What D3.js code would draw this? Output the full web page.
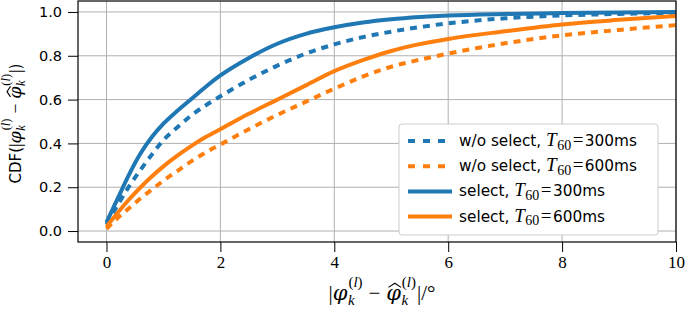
<!DOCTYPE html>
<html>
<head>
<meta charset="utf-8">
<script src="https://cdn.jsdelivr.net/npm/d3@7"></script>
<style>
  html, body { margin: 0; padding: 0; background: #fff; }
  svg { display: block; }
</style>
</head>
<body>
<svg id="chart" width="685" height="309"></svg>
<script>
// ---------- data ----------
const xValues     = [0,    0.2,   0.4,   0.6,   0.8,  1,     1.25,  1.5,  1.75,  2,     2.5,   3,     3.5,   4,     4.5,   5,     5.5,   6,     7,     8,     9,     10];
const woSelect300 = [0.03, 0.12,  0.205, 0.28,  0.35, 0.415, 0.475, 0.53, 0.575, 0.615, 0.69,  0.755, 0.81,  0.852, 0.885, 0.91,  0.931, 0.948, 0.971, 0.984, 0.991, 0.996];
const woSelect600 = [0.01, 0.06,  0.105, 0.15,  0.19, 0.23,  0.275, 0.32, 0.36,  0.395, 0.465, 0.53,  0.59,  0.65,  0.705, 0.75,  0.782, 0.81,  0.857, 0.893, 0.918, 0.94];
const select300   = [0.04, 0.15,  0.26,  0.355, 0.43, 0.49,  0.55,  0.605,0.66,  0.71,  0.79,  0.855, 0.90,  0.93,  0.952, 0.967, 0.977, 0.984, 0.991, 0.995, 0.998, 1.0];
const select600   = [0.02, 0.085, 0.145, 0.20,  0.25, 0.295, 0.345, 0.39, 0.43,  0.465, 0.535, 0.60,  0.665, 0.73,  0.78,  0.822, 0.853, 0.877, 0.912, 0.943, 0.964, 0.982];

const seriesNames = ["w/o select", "w/o select", "select", "select"];
const seriesT60 = ["300ms", "600ms", "300ms", "600ms"];
const seriesValues = [woSelect300, woSelect600, select300, select600];
const seriesDashed = [true, true, false, false];
const seriesColors = ["#1f77b4", "#ff7f0e", "#1f77b4", "#ff7f0e"];

const xTicks = [0, 2, 4, 6, 8, 10];
const yTicks = [0.0, 0.2, 0.4, 0.6, 0.8, 1.0];

// ---------- layout ----------
const plot = { left: 78, right: 676, top: 1, bottom: 242 };
const svg = d3.select("#chart");

const x = d3.scaleLinear().domain([-0.5, 10]).range([plot.left, plot.right]);
const y = d3.scaleLinear().domain([-0.05, 1.05]).range([plot.bottom, plot.top]);

const SANS = "DejaVu Sans, sans-serif";
const SERIF = "Liberation Serif, DejaVu Serif, serif";
const PHI = "DejaVu Serif, serif";

svg.append("defs").append("clipPath").attr("id", "clip")
  .append("rect").attr("x", plot.left).attr("y", plot.top)
  .attr("width", plot.right - plot.left).attr("height", plot.bottom - plot.top);

// grid
const grid = svg.append("g");
grid.selectAll("line.vx").data(xTicks).join("line")
  .attr("x1", d => x(d)).attr("x2", d => x(d))
  .attr("y1", plot.top).attr("y2", plot.bottom)
  .attr("stroke", "#b0b0b0").attr("stroke-width", 1);
grid.selectAll("line.hy").data(yTicks).join("line")
  .attr("y1", d => y(d)).attr("y2", d => y(d))
  .attr("x1", plot.left).attr("x2", plot.right)
  .attr("stroke", "#b0b0b0").attr("stroke-width", 1);

// lines
const line = d3.line().x((d, i) => x(xValues[i])).y(d => y(d)).curve(d3.curveMonotoneX);
const lines = svg.append("g").attr("clip-path", "url(#clip)");
seriesValues.forEach((vals, k) => {
  lines.append("path")
    .attr("d", line(vals))
    .attr("fill", "none")
    .attr("stroke", seriesColors[k])
    .attr("stroke-width", 4)
    .attr("stroke-linejoin", "round")
    .attr("stroke-dasharray", seriesDashed[k] ? "7,6" : null);
});

// axes
const xAxis = d3.axisBottom(x).tickValues(xTicks).tickSize(10).tickPadding(4).tickFormat(d3.format("d"));
const gx = svg.append("g").attr("transform", `translate(0,${plot.bottom})`).call(xAxis);
gx.select(".domain").remove();
gx.selectAll("line").attr("stroke", "#000").attr("stroke-width", 1);
gx.selectAll("text").attr("font-family", SERIF).attr("font-size", 17).attr("fill", "#000");

const yAxis = d3.axisLeft(y).tickValues(yTicks).tickSize(10).tickPadding(6).tickFormat(d3.format(".1f"));
const gy = svg.append("g").attr("transform", `translate(${plot.left},0)`).call(yAxis);
gy.select(".domain").remove();
gy.selectAll("line").attr("stroke", "#000").attr("stroke-width", 1);
gy.selectAll("text").attr("font-family", SANS).attr("font-size", 14.5).attr("fill", "#000");

// spines
svg.append("rect")
  .attr("x", plot.left).attr("y", plot.top)
  .attr("width", plot.right - plot.left).attr("height", plot.bottom - plot.top)
  .attr("fill", "none").attr("stroke", "#000").attr("stroke-width", 1.2);

// ---------- math text helper ----------
function addParts(textSel, parts) {
  let idx = 0;
  const hats = [];
  parts.forEach(p => {
    const t = textSel.append("tspan").text(p.t)
      .attr("font-family", p.f || SERIF)
      .attr("font-size", p.s)
      .attr("font-style", p.i ? "italic" : "normal");
    if (p.dx) t.attr("dx", p.dx);
    if (p.dy) t.attr("dy", p.dy);
    if (p.hat) hats.push({ idx: idx, s: p.s });
    idx += p.t.length;
  });
  return hats;
}
function phiExpr(S, s, hat) {
  const sub = s * 0.3, sup = s * 0.85;
  return [
    { t: "\u03C6", s: S, i: true, f: PHI, hat: hat },
    { t: "k", s: s, i: true, dy: sub, dx: 0.5 },
    { t: "(", s: s, dx: -s * 0.42, dy: -(sub + sup) },
    { t: "l", s: s, i: true },
    { t: ")", s: s },
  ];
}
function absDiff(S, s) {
  const sup = s * 0.85;
  return [
    { t: "|", s: S },
    ...phiExpr(S, s, false),
    { t: "\u2212", s: S, dy: sup, dx: S * 0.3 },
    { t: "|", s: S, dx: S * 0.3, opacity: 0 },
  ];
}
function absDiffFull(S, s) {
  const sup = s * 0.85;
  return [
    { t: "|", s: S },
    ...phiExpr(S, s, false),
    { t: "\u2212", s: S, dy: sup, dx: S * 0.28 },
    ...phiExpr(S, s, true).map((p, i) => i === 0 ? Object.assign({}, p, { dx: S * 0.28 }) : p),
    { t: "|", s: S, dy: sup, dx: 1 },
  ];
}
function drawHats(g, textSel, hats) {
  const node = textSel.node();
  hats.forEach(h => {
    const e = node.getExtentOfChar(h.idx);
    const S = h.s;
    const cx = e.x + e.width / 2 + 0.06 * S;
    g.append("path")
      .attr("d", `M${cx - 0.3 * S},${-0.6 * S} L${cx},${-0.8 * S} L${cx + 0.3 * S},${-0.6 * S}`)
      .attr("fill", "none").attr("stroke", "#000").attr("stroke-width", 1.1);
  });
}

// x label
const xg = svg.append("g").attr("transform", `translate(382,300)`);
const xl = xg.append("text").attr("x", 0).attr("y", 0)
  .attr("text-anchor", "middle").attr("fill", "#000");
drawHats(xg, xl, addParts(xl, [...absDiffFull(21, 15), { t: "/\u00B0", s: 21 }]));

// y label
const yg = svg.append("g").attr("transform", `translate(21,${(plot.top + plot.bottom) / 2 + 2}) rotate(-90)`);
const yl = yg.append("text").attr("x", 0).attr("y", 0)
  .attr("text-anchor", "middle").attr("fill", "#000");
drawHats(yg, yl, addParts(yl, [{ t: "CDF(", s: 15, f: SANS }, ...absDiffFull(17.5, 12.5), { t: ")", s: 15, f: SANS }]));

// ---------- legend ----------
const lg = svg.append("g");
lg.append("rect")
  .attr("x", 399).attr("y", 124).attr("width", 259).attr("height", 111)
  .attr("rx", 3).attr("fill", "#fff").attr("stroke", "#cccccc").attr("stroke-width", 1);
seriesValues.forEach((vals, k) => {
  const ly = 141 + k * 25.2;
  lg.append("line")
    .attr("x1", 408).attr("x2", 452).attr("y1", ly).attr("y2", ly)
    .attr("stroke", seriesColors[k]).attr("stroke-width", 4)
    .attr("stroke-dasharray", seriesDashed[k] ? "7,8" : null);
  const t = lg.append("text").attr("x", 459).attr("y", ly + 5).attr("fill", "#000");
  addParts(t, [
    { t: seriesNames[k] + ", ", s: 15.3, f: SANS },
    { t: "T", s: 19, i: true },
    { t: "60", s: 14, dy: 3.5, dx: 0.5 },
    { t: "=", s: 19, dy: -3.5, dx: 1.5 },
    { t: seriesT60[k], s: 15.3, f: SANS, dx: 1.5 },
  ]);
});
</script>
</body>
</html>
